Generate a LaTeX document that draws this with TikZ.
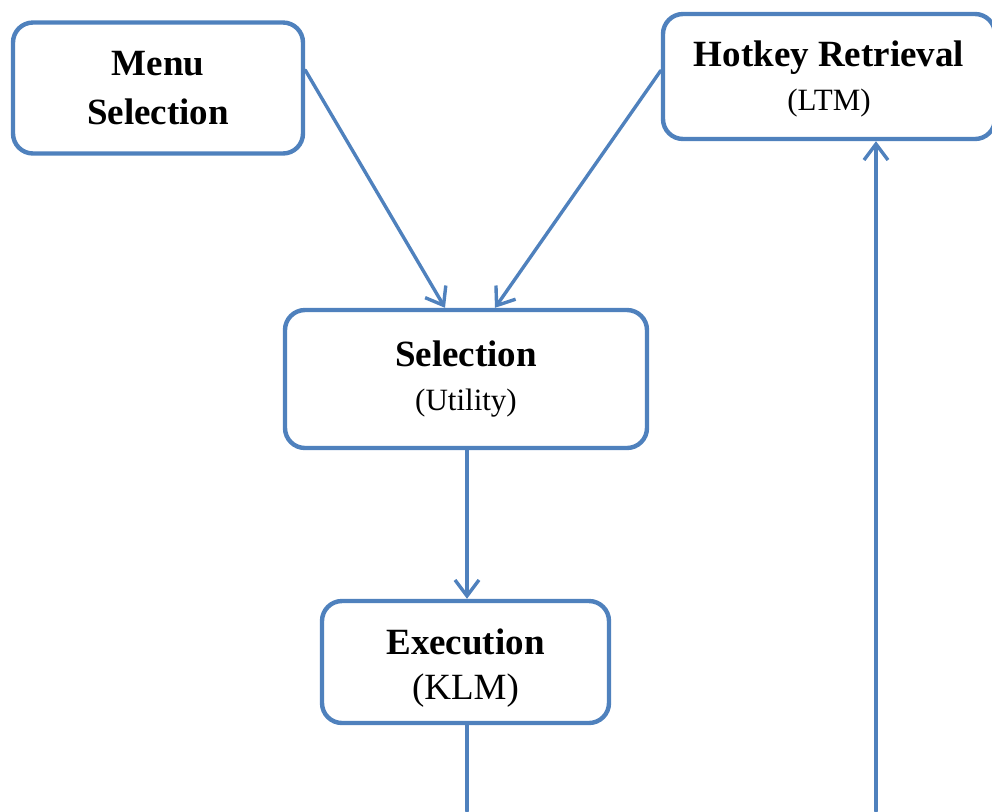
\documentclass[tikz,border=0pt]{standalone}
\usepackage{fontspec}
\setmainfont{Liberation Serif}
\usetikzlibrary{arrows.meta}
\definecolor{boxblue}{RGB}{79,129,189}
\newcommand{\SubSize}{\fontsize{15.5}{19}\selectfont}
\newcommand{\KlmSize}{\fontsize{18.5}{22}\selectfont}

\begin{document}
\begin{tikzpicture}[line cap=round,line join=round,x=0.5pt,y=-0.5pt,
    >={Straight Barb[length=8pt,width=12pt,line width=1.7pt]},
    stage/.style={draw=boxblue,line width=2.2pt,rounded corners=10pt,fill=white,
      align=center,inner sep=0pt,font=\fontsize{18.5}{24.5}\selectfont\bfseries},
    flow/.style={draw=boxblue,line width=1.7pt}]
  \useasboundingbox (0,0) rectangle (992,811);
  \clip (0,0) rectangle (992,811);
  % boxes
  \node[stage,minimum width=145pt,minimum height=65.5pt] (menu) at (158,88) {Menu\\Selection};
  \node[stage,minimum width=166pt,minimum height=62.5pt] (hotkey) at (829,76.5)
    {\rule{0pt}{15.5pt}Hotkey Retrieval\\[-2.5pt]{\SubSize\mdseries (LTM)}};
  \node[stage,minimum width=181pt,minimum height=69pt] (select) at (466,379)
    {Selection\\[-2.5pt]{\SubSize\mdseries (Utility)}};
  \node[stage,minimum width=143.5pt,minimum height=61pt] (exec) at (465.5,662)
    {\rule{0pt}{19pt}Execution\\[-2pt]{\KlmSize\mdseries (KLM)}};
  % free ends at the bottom
  \coordinate (klmout) at (467,811);
  \coordinate (ltmin) at (876,811);
  % connectors
  \draw[flow,->] ([yshift=9pt]menu.east) -- ([xshift=-10.5pt]select.north);
  \draw[flow,->] ([yshift=3pt]hotkey.west) -- ([xshift=14.5pt]select.north);
  \draw[flow,->] (select.south -| klmout) -- (exec.north -| klmout);
  \draw[flow] (exec.south -| klmout) -- (klmout);
  \draw[flow,->] (ltmin) -- (ltmin |- hotkey.south);
\end{tikzpicture}
\end{document}
